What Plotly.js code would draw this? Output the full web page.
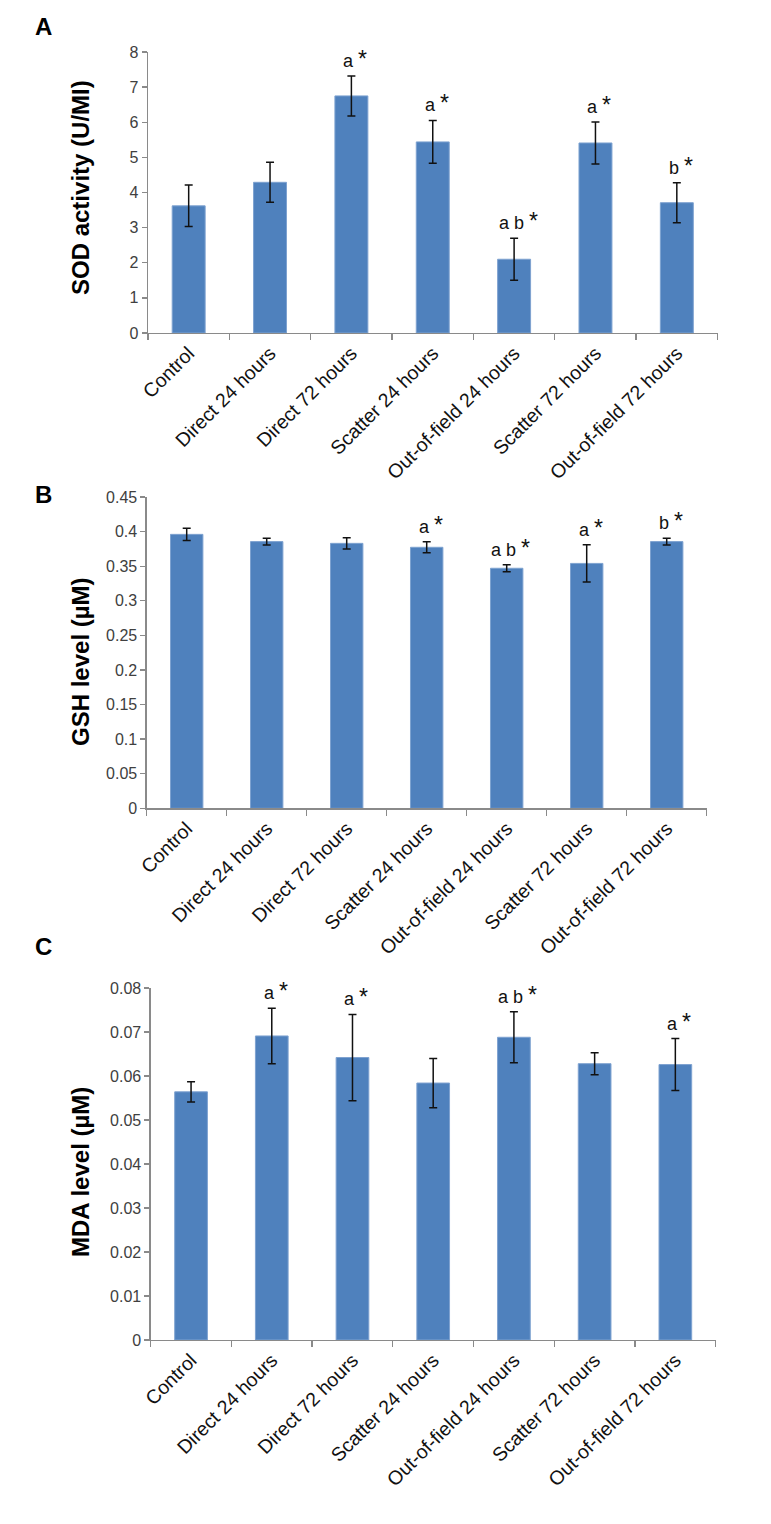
<!DOCTYPE html>
<html>
<head>
<meta charset="utf-8">
<script src="https://cdn.plot.ly/plotly-3.0.1.min.js"></script>
<style>
  html, body { margin: 0; padding: 0; background: #fff; }
  #chart { width: 771px; height: 1524px; }
</style>
</head>
<body>
<div id="chart"></div>
<script>
// ---- data ----
const categories = ["Control", "Direct 24 hours", "Direct 72 hours", "Scatter 24 hours",
                    "Out-of-field 24 hours", "Scatter 72 hours", "Out-of-field 72 hours"];

const sodValues = [3.62, 4.29, 6.75, 5.44, 2.10, 5.41, 3.71];
const sodErrors = [0.59, 0.57, 0.57, 0.61, 0.60, 0.60, 0.57];
const sodSig    = ["", "", "a *", "a *", "a b *", "a *", "b *"];

const gshValues = [0.396, 0.3855, 0.383, 0.3773, 0.347, 0.354, 0.3855];
const gshErrors = [0.009, 0.005, 0.008, 0.008, 0.005, 0.027, 0.005];
const gshSig    = ["", "", "", "a *", "a b *", "a *", "b *"];

const mdaValues = [0.0564, 0.0691, 0.0642, 0.0584, 0.0688, 0.0628, 0.0626];
const mdaErrors = [0.0023, 0.0063, 0.0098, 0.0056, 0.0058, 0.0025, 0.0059];
const mdaSig    = ["", "a *", "a *", "", "a b *", "", "a *"];

const panelLetters = ["A", "B", "C"];
const yTitles = ["SOD activity (U/MI)", "GSH level (µM)", "MDA level (µM)"];

// ---- styling ----
const W = 771, H = 1524;
const FONT = "Liberation Sans, Arial, Helvetica, sans-serif";
const barColor = "#4f81bd";
const axisColor = "#8a8a8a";

function px2x(p) { return p / W; }
function px2y(p) { return 1 - p / H; }

function barTrace(vals, errs, xa, ya) {
  return {
    type: "bar", x: categories, y: vals, xaxis: xa, yaxis: ya,
    marker: { color: barColor, line: { color: "#7ea2d0", width: 1 } },
    error_y: { type: "data", array: errs, visible: true, color: "#111", thickness: 1.5, width: 4 },
    hoverinfo: "skip", showlegend: false
  };
}

const data = [
  barTrace(sodValues, sodErrors, "x", "y"),
  barTrace(gshValues, gshErrors, "x2", "y2"),
  barTrace(mdaValues, mdaErrors, "x3", "y3")
];

function xAxis(domPx, anchor) {
  return {
    domain: [px2x(domPx[0]), px2x(domPx[1])], anchor: anchor,
    type: "category", categoryorder: "array", categoryarray: categories,
    showline: true, linecolor: axisColor, linewidth: 1.3,
    ticks: "outside", ticklen: 6, tickcolor: axisColor, tickwidth: 1.3,
    tickson: "boundaries", tickangle: -45,
    tickfont: { family: FONT, size: 19.5, color: "#111" },
    showgrid: false, zeroline: false, fixedrange: true
  };
}
function yAxis(domPx, anchor, range, dtick) {
  return {
    domain: [px2y(domPx[1]), px2y(domPx[0])], anchor: anchor,
    range: range, dtick: dtick, tick0: 0,
    showline: true, linecolor: axisColor, linewidth: 1.3,
    ticks: "outside", ticklen: 5, tickcolor: axisColor, tickwidth: 1.3,
    tickfont: { family: FONT, size: 16, color: "#404040" },
    showgrid: false, zeroline: false, fixedrange: true
  };
}

const annotations = [];
function sigAnn(sig, vals, errs, xref, yref) {
  sig.forEach((s, i) => {
    if (!s) return;
    const txt = s.replace("*", "<span style='font-size:23px'>*</span>");
    annotations.push({
      xref: xref, yref: yref, x: categories[i], y: vals[i] + errs[i],
      text: txt, showarrow: false, xanchor: "center", yanchor: "bottom",
      xshift: 4, yshift: 2, font: { family: FONT, size: 18, color: "#111" }
    });
  });
}
sigAnn(sodSig, sodValues, sodErrors, "x", "y");
sigAnn(gshSig, gshValues, gshErrors, "x2", "y2");
sigAnn(mdaSig, mdaValues, mdaErrors, "x3", "y3");

const letterPos = [[43, 26], [43, 494], [43, 946]];
panelLetters.forEach((L, i) => {
  annotations.push({
    xref: "paper", yref: "paper", x: px2x(letterPos[i][0]), y: px2y(letterPos[i][1]),
    text: "<b>" + L + "</b>", showarrow: false, xanchor: "center", yanchor: "middle",
    font: { family: FONT, size: 24, color: "#000" }
  });
});

const titlePos = [[80, 188], [80, 662], [80, 1172]];
yTitles.forEach((t, i) => {
  annotations.push({
    xref: "paper", yref: "paper", x: px2x(titlePos[i][0]), y: px2y(titlePos[i][1]),
    text: "<b>" + t + "</b>", showarrow: false, textangle: -90,
    xanchor: "center", yanchor: "middle",
    font: { family: FONT, size: 24, color: "#000" }
  });
});

const layout = {
  width: W, height: H,
  margin: { l: 0, r: 0, t: 0, b: 0 },
  paper_bgcolor: "#fff", plot_bgcolor: "#fff",
  bargap: 0.595,
  xaxis:  xAxis([148, 717.5], "y"),
  yaxis:  yAxis([52, 333], "x", [0, 8], 1),
  xaxis2: xAxis([146.7, 706.7], "y2"),
  yaxis2: yAxis([497, 808.3], "x2", [0, 0.45], 0.05),
  xaxis3: xAxis([150.7, 715.7], "y3"),
  yaxis3: yAxis([988, 1340], "x3", [0, 0.08], 0.01),
  annotations: annotations
};

Plotly.newPlot("chart", data, layout, { staticPlot: true, displayModeBar: false });
</script>
</body>
</html>
